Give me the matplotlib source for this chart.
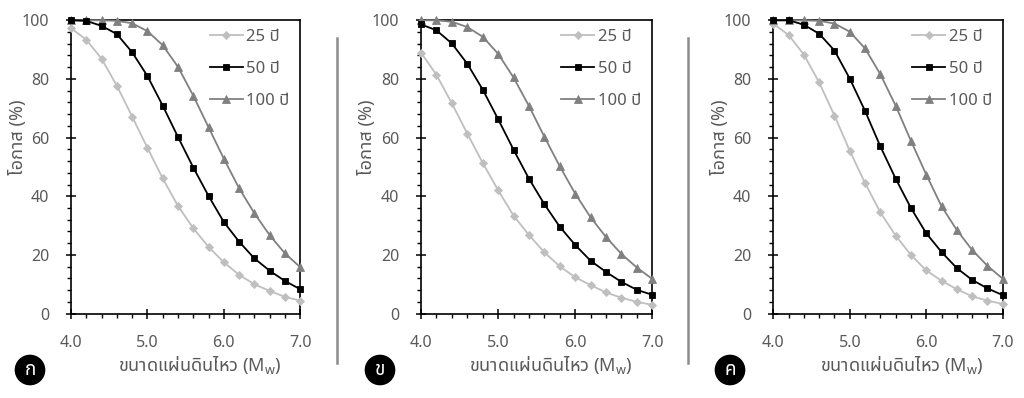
import numpy as np
import matplotlib
matplotlib.use("Agg")
import matplotlib.pyplot as plt
from matplotlib.lines import Line2D
from matplotlib.ticker import MultipleLocator, FormatStrFormatter

# Fuente con glifos tailandeses
plt.rcParams['font.family'] = ['Noto Sans Thai', 'DejaVu Sans']

# Magnitudes (Mw)
magnitud = [4.0, 4.2, 4.4, 4.6, 4.8, 5.0, 5.2, 5.4, 5.6, 5.8,
            6.0, 6.2, 6.4, 6.6, 6.8, 7.0]

# Panel ก
a_25 = [97.3, 93.4, 86.9, 77.7, 67.2, 56.5, 46.1, 36.7, 29.1, 22.7,
        17.5, 13.2, 10.0, 7.7, 5.7, 4.4]
a_50 = [100, 99.8, 98.1, 95.3, 89.1, 81.0, 70.9, 60.2, 49.8, 40.1,
        31.2, 24.5, 18.8, 14.6, 11.1, 8.3]
a_100 = [100, 100, 100, 99.8, 99.0, 96.3, 91.5, 84.1, 74.3, 63.5,
         52.8, 42.7, 34.2, 26.7, 20.5, 15.8]

# Panel ข
b_25 = [89.0, 81.4, 71.7, 61.4, 51.4, 42.1, 33.4, 26.8, 20.9, 16.1,
        12.4, 9.7, 7.2, 5.4, 4.0, 3.0]
b_50 = [98.6, 96.6, 92.1, 85.2, 76.4, 66.3, 55.9, 46.0, 37.3, 29.6,
        23.4, 18.0, 14.2, 10.8, 8.1, 6.4]
b_100 = [100, 100, 99.5, 97.7, 94.4, 88.6, 80.5, 70.8, 60.3, 50.2,
         40.9, 32.8, 26.1, 20.3, 15.7, 11.8]

# Panel ค
c_25 = [98.8, 95.0, 88.3, 78.8, 67.5, 55.5, 44.5, 34.5, 26.6, 20.0,
        14.7, 11.2, 8.3, 5.9, 4.4, 3.3]
c_50 = [100, 100, 98.5, 95.4, 89.7, 80.1, 69.1, 57.0, 46.0, 36.0,
        27.4, 21.0, 15.5, 11.5, 8.6, 6.3]
c_100 = [100, 100, 100, 99.8, 98.9, 96.1, 90.4, 81.6, 70.9, 58.9,
         47.4, 36.6, 28.5, 21.7, 16.3, 11.9]

paneles = [(a_25, a_50, a_100), (b_25, b_50, b_100), (c_25, c_50, c_100)]
letras = ['ก', 'ข', 'ค']
etiquetas = ['25 ปี', '50 ปี', '100 ปี']

gris_texto = '#595959'

fig = plt.figure(figsize=(10.24, 3.98), dpi=100)

# Posiciones de los ejes (en pixeles del original)
izq = [71, 421, 773.3]
ancho = [229.3, 231.3, 229.4]
arriba = 20.3
abajo = 313.6

for i, (s25, s50, s100) in enumerate(paneles):
    ax = fig.add_axes([izq[i] / 1024, 1 - abajo / 398, ancho[i] / 1024, (abajo - arriba) / 398])

    ax.plot(magnitud, s25, color='#bfbfbf', marker='D', markersize=4.2, lw=1.3,
            markeredgewidth=0.6, clip_on=False, zorder=3, label=etiquetas[0])
    ax.plot(magnitud, s50, color='black', marker='s', markersize=4.6, lw=1.3,
            markeredgewidth=0.6, clip_on=False, zorder=4, label=etiquetas[1])
    ax.plot(magnitud, s100, color='#808080', marker='^', markersize=5.6, lw=1.3,
            markeredgewidth=0.6, clip_on=False, zorder=3, label=etiquetas[2])

    ax.set_xlim(4.0, 7.0)
    ax.set_ylim(0, 100)
    ax.xaxis.set_major_locator(MultipleLocator(1.0))
    ax.xaxis.set_minor_locator(MultipleLocator(0.2))
    ax.yaxis.set_major_locator(MultipleLocator(20))
    ax.yaxis.set_minor_locator(MultipleLocator(4))
    ax.xaxis.set_major_formatter(FormatStrFormatter('%.1f'))

    ax.tick_params(which='major', direction='inout', length=7.5, width=1.1,
                   labelsize=11.5, labelcolor=gris_texto, color='black', pad=12)
    ax.tick_params(which='minor', direction='out', length=3, width=1.0, color='black')

    for lado in ax.spines.values():
        lado.set_linewidth(1.2)
        lado.set_color('black')

    ax.set_xlabel('ขนาดแผ่นดินไหว (M$_\\mathregular{w}$)', fontsize=13, color=gris_texto)
    ax.xaxis.set_label_coords(0.56, -0.175, transform=ax.transAxes)
    ax.xaxis.label.set_va('center')
    ax.set_ylabel('โอกาส (%)', fontsize=13, color=gris_texto)
    ax.yaxis.set_label_coords(-0.232, 0.6, transform=ax.transAxes)
    ax.yaxis.label.set_va('center')

    ley = ax.legend(loc='upper left', frameon=False, fontsize=12, handlelength=2.0,
                    handletextpad=0.2, labelspacing=0.95, borderpad=0, borderaxespad=0,
                    bbox_to_anchor=(0.605, 0.97))
    for t in ley.get_texts():
        t.set_color(gris_texto)

    # Circulo con la letra del panel
    cx = [30, 380, 730][i]
    fig.text(cx / 1024, 1 - 370 / 398, letras[i], ha='center', va='center',
             fontsize=13.5, fontweight='bold', color='white',
             bbox=dict(boxstyle='circle,pad=0.3', fc='black', ec='black'))

# Lineas separadoras
for xs in [336.7, 687.7]:
    fig.add_artist(Line2D([xs / 1024, xs / 1024], [1 - 38 / 398, 1 - 363 / 398],
                          color='#8c8c8c', lw=1.8))

fig.savefig('out.png', dpi=100)
